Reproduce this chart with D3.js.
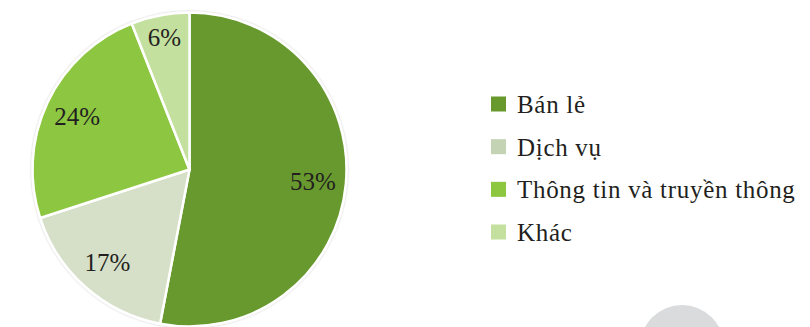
<!DOCTYPE html>
<html><head><meta charset="utf-8">
<script src="https://cdn.jsdelivr.net/npm/d3@7"></script>
<style>html,body{margin:0;padding:0;background:#fff;}svg{display:block;}</style>
</head><body>
<svg id="c" width="810" height="327"></svg>
<script>
const categories = ["Bán lẻ", "Dịch vụ", "Thông tin và truyền thông", "Khác"];
const values = [53, 17, 24, 6];
const labels = ["53%", "17%", "24%", "6%"];
const sliceColors = ["#67992d", "#d6e0c8", "#8dc63f", "#c4e09f"];
const legendColors = ["#67992d", "#c3d3b4", "#8dc63f", "#c4e09f"];

const svg = d3.select("#c");
const font = '"Liberation Serif", serif';
const cx = 189.5, cy = 169.5, r = 157;

const defs = svg.append("defs");
const f = defs.append("filter").attr("id", "sh").attr("x", "-10%").attr("y", "-10%").attr("width", "120%").attr("height", "120%");
f.append("feGaussianBlur").attr("in", "SourceAlpha").attr("stdDeviation", 1.2).attr("result", "b");
f.append("feComponentTransfer").attr("in", "b").attr("result", "o")
  .append("feFuncA").attr("type", "linear").attr("slope", 0.25);
const m = f.append("feMerge");
m.append("feMergeNode").attr("in", "o");
m.append("feMergeNode").attr("in", "SourceGraphic");

// decorative gray circle at bottom-right
svg.append("circle").attr("cx", 682).attr("cy", 347).attr("r", 42).attr("fill", "#dadbdc");

const pie = d3.pie().sort(null).value(d => d)(values);
const arc = d3.arc().innerRadius(0).outerRadius(r);
const labelR = d => (d.endAngle - d.startAngle) < 0.5 ? r * 0.855 : r * 0.79;

const g = svg.append("g").attr("transform", `translate(${cx},${cy})`);
g.append("g").attr("filter", "url(#sh)").selectAll("path").data(pie).join("path")
  .attr("d", arc)
  .attr("fill", (d, i) => sliceColors[i])
  .attr("stroke", "#fff").attr("stroke-width", 2.5).attr("stroke-linejoin", "round");

g.selectAll("text").data(pie).join("text")
  .attr("transform", d => {
    const lr = labelR(d);
    const [x, y] = d3.arc().innerRadius(lr).outerRadius(lr).centroid(d);
    return `translate(${x},${y})`;
  })
  .attr("text-anchor", "middle").attr("dy", "0.34em")
  .style("font-family", font).attr("font-size", 25).attr("fill", "#231f20")
  .text((d, i) => labels[i]);

const leg = svg.append("g").attr("transform", "translate(491,104)");
const y = d3.scalePoint().domain(categories).range([0, 128]);
const item = leg.selectAll("g").data(categories).join("g")
  .attr("transform", d => `translate(0,${y(d)})`);
item.append("rect").attr("x", 0).attr("y", -7.5).attr("width", 15).attr("height", 15)
  .attr("fill", (d, i) => legendColors[i]);
item.append("text").attr("x", 26).attr("y", 9)
  .style("font-family", font).style("letter-spacing", "0.7px").attr("font-size", 25).attr("fill", "#231f20")
  .text(d => d);
</script>
</body></html>
